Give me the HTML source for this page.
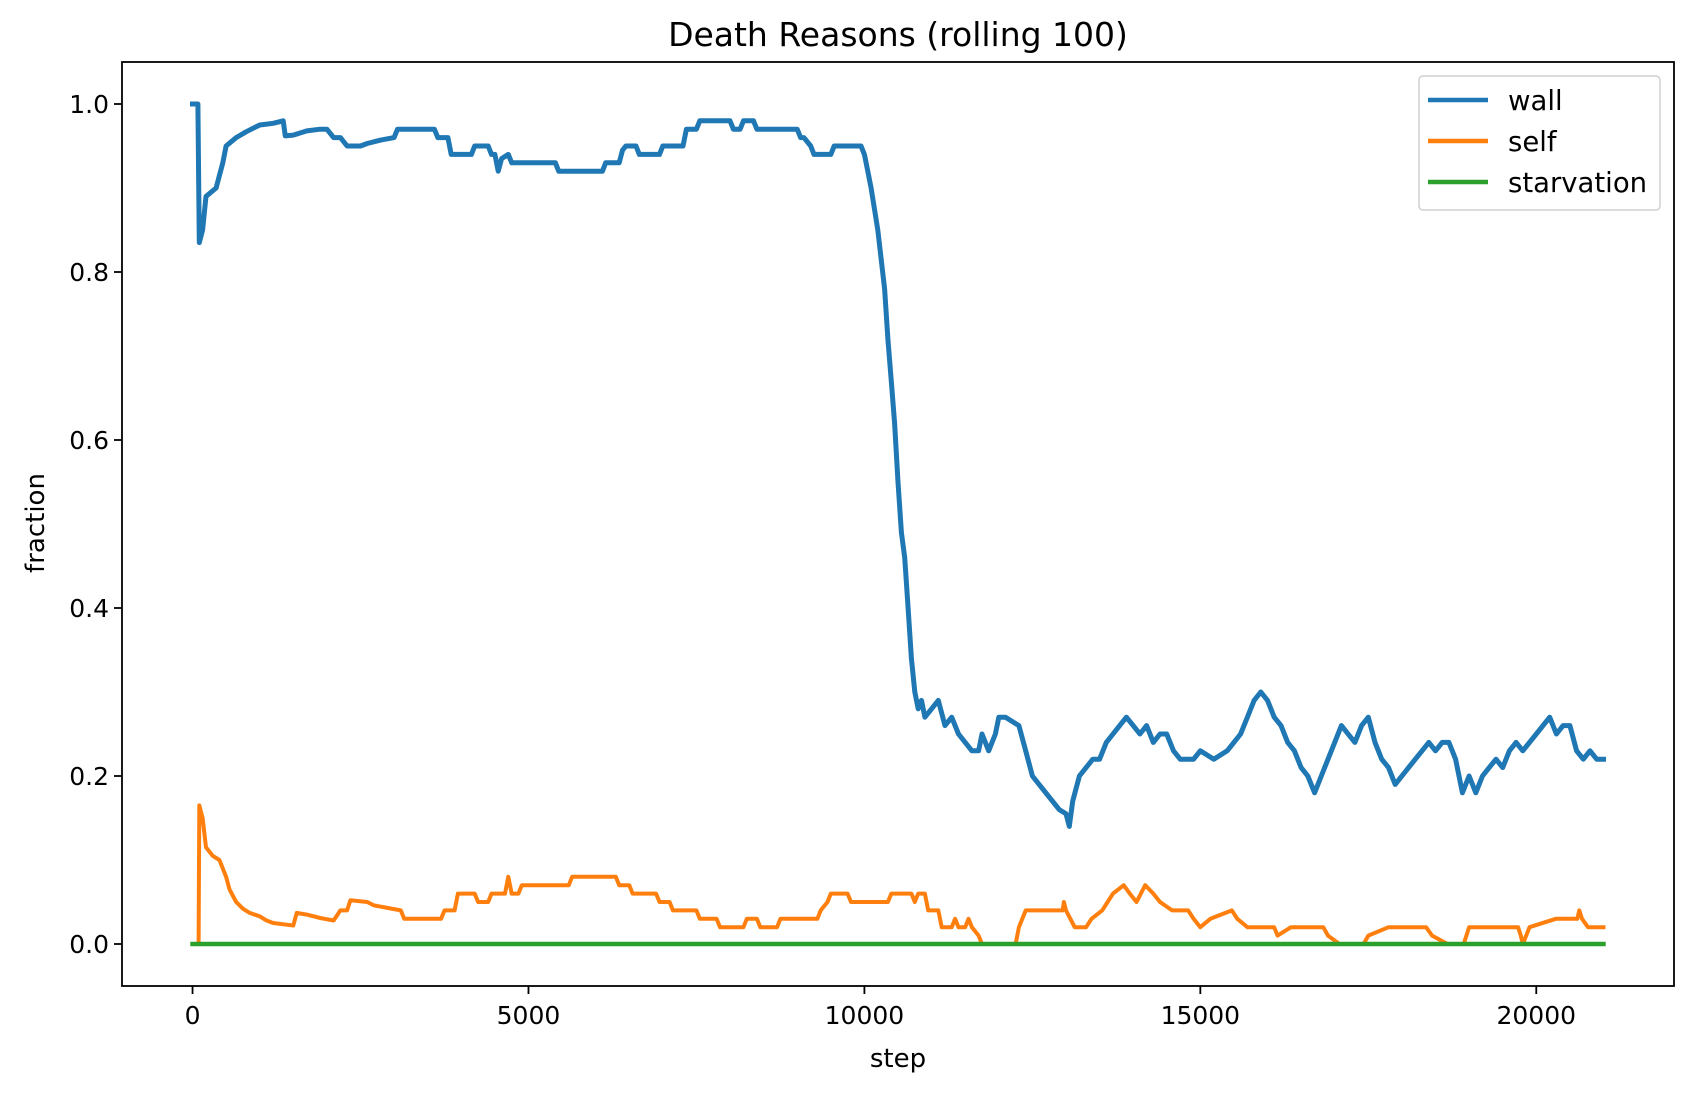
<!DOCTYPE html>
<html><head><meta charset="utf-8"><style>
html,body{margin:0;padding:0;background:#fff;}
svg{display:block;font-family:"DejaVu Sans","Liberation Sans",sans-serif;}
</style></head>
<body>
<svg id="chart" width="1692" height="1093" viewBox="0 0 1692 1093">
<rect x="0" y="0" width="1692" height="1093" fill="#fff"/>
<text x="898" y="46" font-size="33" text-anchor="middle">Death Reasons (rolling 100)</text>
<g id="plot"></g>
<text x="898" y="1067" font-size="26" text-anchor="middle">step</text>
<text x="0" y="0" font-size="26" text-anchor="middle" transform="translate(44,523) rotate(-90)">fraction</text>
</svg>
<script>
const xTicks = [0, 5000, 10000, 15000, 20000];
const xTickLabels = ["0", "5000", "10000", "15000", "20000"];
const yTicks = [0, 0.2, 0.4, 0.6, 0.8, 1.0];
const yTickLabels = ["0.0", "0.2", "0.4", "0.6", "0.8", "1.0"];
const seriesNames = ["wall", "self", "starvation"];
const wallSteps = [0,80,100,150,200,350,450,500,650,800,1000,1200,1350,1380,1500,1700,1900,2000,2100,2200,2300,2500,2600,2800,3000,3050,3600,3650,3800,3850,4150,4200,4400,4450,4500,4550,4600,4700,4750,5400,5450,6100,6150,6350,6400,6450,6600,6650,6950,7000,7300,7350,7500,7550,8000,8050,8150,8200,8350,8400,9000,9050,9100,9200,9250,9500,9550,9950,10000,10050,10100,10200,10300,10350,10400,10450,10500,10550,10600,10650,10700,10750,10800,10850,10900,11000,11100,11200,11300,11400,11500,11600,11700,11750,11850,11950,12000,12100,12300,12400,12500,12600,12700,12800,12900,13000,13050,13100,13200,13300,13400,13500,13600,13700,13800,13900,14000,14100,14200,14300,14400,14500,14600,14700,14900,15000,15200,15400,15500,15600,15700,15800,15900,16000,16100,16200,16300,16400,16500,16600,16700,16800,16900,17000,17100,17200,17300,17400,17500,17600,17700,17800,17900,18000,18100,18200,18300,18400,18500,18600,18700,18800,18900,19000,19100,19200,19300,19400,19500,19600,19700,19800,19900,20000,20100,20200,20300,20400,20500,20600,20700,20800,20900,21000];
const wallValues = [1.0,1.0,0.835,0.85,0.89,0.9,0.93,0.95,0.96,0.967,0.975,0.977,0.98,0.962,0.963,0.968,0.97,0.97,0.96,0.96,0.95,0.95,0.953,0.957,0.96,0.97,0.97,0.96,0.96,0.94,0.94,0.95,0.95,0.94,0.94,0.92,0.935,0.94,0.93,0.93,0.92,0.92,0.93,0.93,0.945,0.95,0.95,0.94,0.94,0.95,0.95,0.97,0.97,0.98,0.98,0.97,0.97,0.98,0.98,0.97,0.97,0.96,0.96,0.95,0.94,0.94,0.95,0.95,0.94,0.92,0.9,0.85,0.78,0.72,0.67,0.62,0.55,0.49,0.46,0.4,0.34,0.3,0.28,0.29,0.27,0.28,0.29,0.26,0.27,0.25,0.24,0.23,0.23,0.25,0.23,0.25,0.27,0.27,0.26,0.23,0.2,0.19,0.18,0.17,0.16,0.155,0.14,0.17,0.2,0.21,0.22,0.22,0.24,0.25,0.26,0.27,0.26,0.25,0.26,0.24,0.25,0.25,0.23,0.22,0.22,0.23,0.22,0.23,0.24,0.25,0.27,0.29,0.3,0.29,0.27,0.26,0.24,0.23,0.21,0.2,0.18,0.2,0.22,0.24,0.26,0.25,0.24,0.26,0.27,0.24,0.22,0.21,0.19,0.2,0.21,0.22,0.23,0.24,0.23,0.24,0.24,0.22,0.18,0.2,0.18,0.2,0.21,0.22,0.21,0.23,0.24,0.23,0.24,0.25,0.26,0.27,0.25,0.26,0.26,0.23,0.22,0.23,0.22,0.22];
const selfSteps = [0,90,100,150,200,300,400,500,550,650,750,850,1000,1100,1200,1400,1500,1550,1700,1900,2100,2200,2300,2350,2600,2700,2900,3100,3150,3700,3750,3900,3950,4200,4250,4400,4450,4650,4700,4750,4850,4900,5600,5650,6300,6350,6500,6550,6900,6950,7100,7150,7500,7550,7800,7850,8200,8250,8400,8450,8700,8750,9300,9350,9450,9500,9750,9800,10350,10400,10700,10750,10800,10900,10950,11100,11150,11300,11350,11400,11500,11550,11600,11700,11750,12250,12300,12400,12950,12970,13000,13130,13300,13380,13540,13620,13700,13860,13950,14050,14180,14300,14400,14580,14820,14900,15000,15150,15470,15550,15700,16100,16150,16350,16830,16900,17070,17430,17500,17800,18360,18450,18680,18920,18960,19000,19730,19770,19800,19850,19900,20290,20610,20640,20680,20770,21000];
const selfValues = [0,0,0.165,0.15,0.115,0.105,0.1,0.08,0.065,0.05,0.042,0.037,0.033,0.028,0.025,0.023,0.022,0.037,0.035,0.031,0.028,0.04,0.04,0.052,0.05,0.046,0.043,0.04,0.03,0.03,0.04,0.04,0.06,0.06,0.05,0.05,0.06,0.06,0.08,0.06,0.06,0.07,0.07,0.08,0.08,0.07,0.07,0.06,0.06,0.05,0.05,0.04,0.04,0.03,0.03,0.02,0.02,0.03,0.03,0.02,0.02,0.03,0.03,0.04,0.05,0.06,0.06,0.05,0.05,0.06,0.06,0.05,0.06,0.06,0.04,0.04,0.02,0.02,0.03,0.02,0.02,0.03,0.02,0.01,0,0,0.02,0.04,0.04,0.05,0.04,0.02,0.02,0.03,0.04,0.05,0.06,0.07,0.06,0.05,0.07,0.06,0.05,0.04,0.04,0.03,0.02,0.03,0.04,0.03,0.02,0.02,0.01,0.02,0.02,0.01,0,0,0.01,0.02,0.02,0.01,0,0,0.01,0.02,0.02,0.01,0,0.01,0.02,0.03,0.03,0.04,0.03,0.02,0.02,0.02];
const starvSteps = [0, 21000];
const starvValues = [0, 0];

const L=122,R=1674,T=62,B=986;
const xMin=-1050,xMax=22050,yMin=-0.05,yMax=1.05;
function xs(v){return L+(v-xMin)/(xMax-xMin)*(R-L);}
function ys(v){return B-(v-yMin)/(yMax-yMin)*(B-T);}
const NS="http://www.w3.org/2000/svg";
const plot=document.getElementById('plot');
function mk(tag,attrs,parent){const e=document.createElementNS(NS,tag);for(const k in attrs)e.setAttribute(k,attrs[k]);(parent||plot).appendChild(e);return e;}

function drawSeries(steps,vals,color,w,name){
  let d='';
  for(let i=0;i<steps.length;i++){d+=(i?'L':'M')+xs(steps[i]).toFixed(1)+','+ys(vals[i]).toFixed(1);}
  const p=mk('path',{d:d,fill:'none',stroke:color,'stroke-width':w,'stroke-linejoin':'round','stroke-linecap':'square'});
  
  
}
drawSeries(wallSteps,wallValues,'#1f77b4',5,'wall-line');
drawSeries(selfSteps,selfValues,'#ff7f0e',4,'self-line');
drawSeries(starvSteps,starvValues,'#2ca02c',4.4,'starvation-line');

const frame=mk('rect',{x:L,y:T,width:R-L,height:B-T,fill:'none',stroke:'#000','stroke-width':1.8});



xTicks.forEach((t,i)=>{
  const x=xs(t);
  const tk=mk('line',{x1:x,x2:x,y1:B,y2:B+8,stroke:'#000','stroke-width':1.8});
  
  
  const lb=mk('text',{x:x,y:B+38,'font-size':25,'text-anchor':'middle'});
  lb.textContent=xTickLabels[i];
  
  
});
yTicks.forEach((t,i)=>{
  const y=ys(t);
  const tk=mk('line',{x1:L-8,x2:L,y1:y,y2:y,stroke:'#000','stroke-width':1.8});
  
  
  const lb=mk('text',{x:L-13,y:y+9,'font-size':25,'text-anchor':'end'});
  lb.textContent=yTickLabels[i];
  
  
});

const lg=mk('g',{});


mk('rect',{x:1419,y:76,width:241,height:134,rx:4,fill:'#fff','fill-opacity':0.8,stroke:'#d0d0d0','stroke-width':1.5},lg);
const lcolors=['#1f77b4','#ff7f0e','#2ca02c'];
seriesNames.forEach((n,i)=>{
  const y=100+i*41;
  const ln=mk('line',{x1:1428,x2:1488,y1:y,y2:y,stroke:lcolors[i],'stroke-width':4.4},lg);
  
  
  const tx=mk('text',{x:1508,y:y+10,'font-size':27.5},lg);
  tx.textContent=n;
  
  
});
</script>
</body></html>
